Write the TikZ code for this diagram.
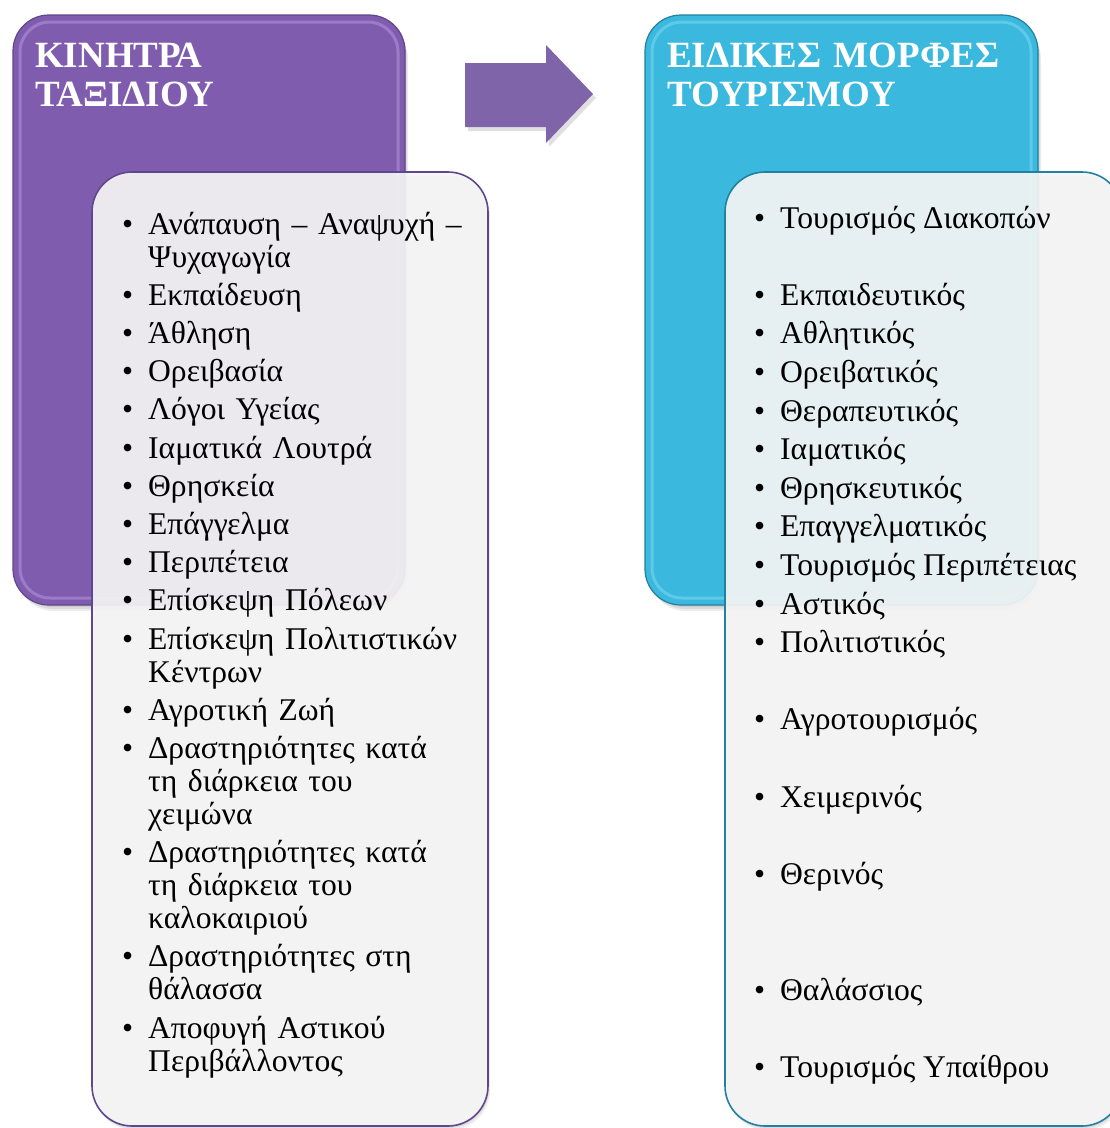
\documentclass[tikz,border=0pt]{standalone}
\usepackage{fontspec}
\setmainfont{Liberation Serif}
\definecolor{motivepurple}{RGB}{128,92,174}
\definecolor{motiveedge}{RGB}{96,70,140}
\definecolor{motivegloss}{RGB}{200,170,240}
\definecolor{formblue}{RGB}{58,184,221}
\definecolor{formedge}{RGB}{34,128,160}
\definecolor{formgloss}{RGB}{150,230,250}
\definecolor{arrowpurple}{RGB}{128,100,170}
\definecolor{listgray}{RGB}{246,246,246}
\newcommand{\bitem}[1]{\hangindent=26pt\hangafter=1\makebox[26pt][l]{•}#1}

\begin{document}
\begin{tikzpicture}[x=1pt, y=-1pt,
    headbox/.style={rounded corners=36pt, line width=1.2pt},
    glossline/.style={rounded corners=30pt, line width=3pt, draw opacity=0.4},
    listbox/.style={rounded corners=40pt, fill=listgray, fill opacity=0.92, line width=1.6pt},
    boxshadow/.style={rounded corners=38pt, fill=black, fill opacity=0.07},
    headtext/.style={text=white, font=\bfseries\fontsize{37}{39}\selectfont, text width=380pt, align=left, inner sep=0pt, anchor=base west},
    listtext/.style={font=\fontsize{31.6}{33}\selectfont, inner sep=0pt, anchor=base west}]
  \useasboundingbox (0,0) rectangle (1110,1128);
  \clip (0,0) rectangle (1110,1128);
  \fill[white] (0,0) rectangle (1110,1128);

  % header boxes
  \foreach \s in {2,4,6} {
    \fill[boxshadow] (13+\s/2,15+\s) rectangle (405+\s/2,605+\s);
    \fill[boxshadow] (645+\s/2,15+\s) rectangle (1038+\s/2,605+\s);
  }
  \draw[headbox, fill=motivepurple, draw=motiveedge] (13,15) rectangle (405,605);
  \draw[glossline, motivegloss] (20,22) rectangle (398,598);
  \draw[headbox, fill=formblue, draw=formedge] (645,15) rectangle (1038,605);
  \draw[glossline, formgloss] (652,22) rectangle (1031,598);

  \node[headtext] (motivetitle) at (35,67) {ΚΙΝΗΤΡΑ\\ΤΑΞΙΔΙΟΥ};
  \node[headtext] (formtitle) at (667,67) {ΕΙΔΙΚΕΣ ΜΟΡΦΕΣ\\ΤΟΥΡΙΣΜΟΥ};

  % arrow between the headers
  \fill[black, opacity=0.12] (468,67) -- (549,67) -- (549,49) -- (596,98) -- (549,147) -- (549,131) -- (468,131) -- cycle;
  \fill[arrowpurple] (465,63) -- (546,63) -- (546,45) -- (593,94) -- (546,143) -- (546,127) -- (465,127) -- cycle;

  % list boxes
  \foreach \s in {2,4} {
    \fill[boxshadow, rounded corners=40pt] (92+\s/2,172+\s) rectangle (488+\s/2,1126+\s);
    \fill[boxshadow, rounded corners=40pt] (725+\s/2,172+\s) rectangle (1122+\s/2,1126+\s);
  }
  \draw[listbox, draw=motiveedge] (92,172) rectangle (488,1126);
  \draw[listbox, draw=formedge] (725,172) rectangle (1122,1126);

  \node[listtext, text width=360pt] (motivelist) at (122,234) {%
    \setlength{\parskip}{5.2pt}%
    \bitem{Ανάπαυση – Αναψυχή –\newline Ψυχαγωγία}\par
    \bitem{Εκπαίδευση}\par
    \bitem{Άθληση}\par
    \bitem{Ορειβασία}\par
    \bitem{Λόγοι Υγείας}\par
    \bitem{Ιαματικά Λουτρά}\par
    \bitem{Θρησκεία}\par
    \bitem{Επάγγελμα}\par
    \bitem{Περιπέτεια}\par
    \bitem{Επίσκεψη Πόλεων}\par
    \bitem{Επίσκεψη Πολιτιστικών\newline Κέντρων}\par
    \bitem{Αγροτική Ζωή}\par
    \bitem{Δραστηριότητες κατά\newline τη διάρκεια του\newline χειμώνα}\par
    \bitem{Δραστηριότητες κατά\newline τη διάρκεια του\newline καλοκαιριού}\par
    \bitem{Δραστηριότητες στη\newline θάλασσα}\par
    \bitem{Αποφυγή Αστικού\newline Περιβάλλοντος}\par};

  \foreach \slot/\txt in {0/Τουρισμός Διακοπών, 2/Εκπαιδευτικός, 3/Αθλητικός,
      4/Ορειβατικός, 5/Θεραπευτικός, 6/Ιαματικός, 7/Θρησκευτικός,
      8/Επαγγελματικός, 9/Τουρισμός Περιπέτειας, 10/Αστικός, 11/Πολιτιστικός,
      13/Αγροτουρισμός, 15/Χειμερινός, 17/Θερινός, 20/Θαλάσσιος,
      22/Τουρισμός Υπαίθρου}
    \node[listtext] (form\slot) at (754,228+\slot*38.6) {\makebox[26pt][l]{•}\txt};
\end{tikzpicture}
\end{document}
